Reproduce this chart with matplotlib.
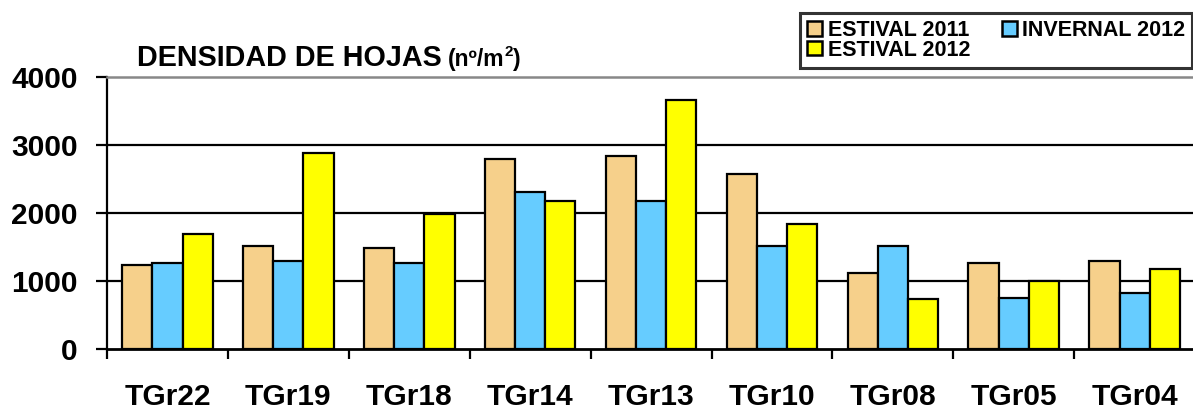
import matplotlib
matplotlib.use("Agg")
import matplotlib.pyplot as plt
import numpy as np
from matplotlib.patches import Patch

categories = ["TGr22", "TGr19", "TGr18", "TGr14", "TGr13", "TGr10", "TGr08", "TGr05", "TGr04"]
estival_2011 = [1230, 1515, 1476, 2785, 2838, 2570, 1113, 1260, 1290]
invernal_2012 = [1265, 1285, 1265, 2300, 2167, 1515, 1515, 745, 815]
estival_2012 = [1691, 2873, 1975, 2172, 3657, 1833, 726, 990, 1172]
series_names = ["ESTIVAL 2011", "INVERNAL 2012", "ESTIVAL 2012"]
colors = ["#F6D08B", "#66CCFF", "#FFFF00"]
yticks = [0, 1000, 2000, 3000, 4000]

plt.rcParams['font.family'] = ['Liberation Sans', 'DejaVu Sans']

W, H = 1193, 413
fig = plt.figure(figsize=(W / 100, H / 100), dpi=100)
ax = fig.add_axes([107 / W, (H - 348.7) / H, 9 * 120.9 / W, 272 / H])

x = np.arange(len(categories))
bw = 0.25
for k, (vals, c) in enumerate(zip([estival_2011, invernal_2012, estival_2012], colors)):
    ax.bar(x + 0.5 + (k - 1) * bw, vals, width=bw, color=c, edgecolor="black",
           linewidth=1.6, zorder=3)

ax.set_xlim(0, len(categories))
ax.set_ylim(0, 4000)

# gridlines
for yv in yticks[1:-1]:
    ax.axhline(yv, color="black", linewidth=1.6, zorder=1)

ax.spines["right"].set_visible(False)
ax.spines["top"].set_color("#888888")
ax.spines["top"].set_linewidth(1.8)
ax.spines["left"].set_linewidth(1.6)
ax.spines["bottom"].set_linewidth(2.0)
ax.spines["bottom"].set_zorder(4)

ax.set_yticks(yticks)
ax.set_yticklabels([str(v) for v in yticks], fontsize=21.5, fontweight="bold")
ax.tick_params(axis="y", direction="out", length=8, width=1.6, pad=13)

ax.set_xticks(np.arange(len(categories) + 1))
ax.set_xticklabels([])
ax.tick_params(axis="x", which="major", direction="out", length=7.5, width=1.6)
ax.set_xticks(x + 0.5, minor=True)
ax.set_xticklabels(categories, minor=True, fontsize=21.5, fontweight="bold")
ax.tick_params(axis="x", which="minor", length=0, pad=25)

# title
fig.canvas.draw()
renderer = fig.canvas.get_renderer()
base_y = 1 - 66 / H
t1 = fig.text(136.7 / W, base_y, "DENSIDAD DE HOJAS", fontsize=20.7, fontweight="bold",
              va="baseline", ha="left")
bb = t1.get_window_extent(renderer)
t2 = fig.text((bb.x1 + 6) / W, base_y, "(nº/m", fontsize=16.5, fontweight="bold",
              va="baseline", ha="left")
bb2 = t2.get_window_extent(renderer)
t3 = fig.text((bb2.x1 + 0.5) / W, base_y + 10 / H, "2", fontsize=11, fontweight="bold",
              va="baseline", ha="left")
bb3 = t3.get_window_extent(renderer)
fig.text((bb3.x1 + 0.5) / W, base_y, ")", fontsize=16.5, fontweight="bold",
         va="baseline", ha="left")

# legend (row-wise order: E2011, I2012 / E2012)
handles = [Patch(facecolor=c, edgecolor="black", linewidth=1.8) for c in colors]
order = [0, 2, 1]
leg = fig.legend([handles[i] for i in order], [series_names[i] for i in order],
                 ncol=2, loc="upper right", bbox_to_anchor=(1192 / W, 1 - 13 / H),
                 frameon=True, fancybox=False, edgecolor="black",
                 prop={"weight": "bold", "size": 15.5},
                 handlelength=0.7, handleheight=0.65, handletextpad=0.25,
                 columnspacing=1.45, labelspacing=-0.05, borderpad=0.32, borderaxespad=0)
leg.get_frame().set_linewidth(2.2)

fig.savefig("out.png", dpi=100)
